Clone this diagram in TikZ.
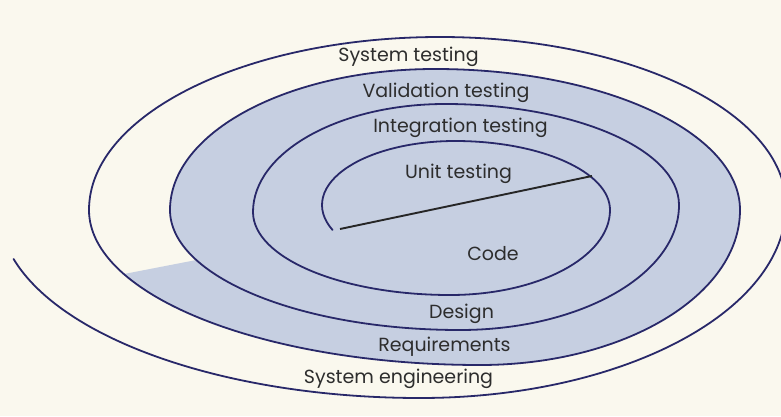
\documentclass[tikz,border=0pt]{standalone}
\usepackage{fontspec}
\setmainfont{Poppins}
\definecolor{paper}{RGB}{250,248,238}
\definecolor{band}{RGB}{198,207,225}
\definecolor{ink}{RGB}{40,40,105}
\definecolor{txt}{RGB}{45,45,45}
\begin{document}
\begin{tikzpicture}[x=1pt,y=1pt,
  spiral/.style={draw=ink, line width=1.8pt, line cap=round},
  lbl/.style={anchor=base, inner sep=0pt, text=txt, font=\fontsize{19}{22}\selectfont}]
\useasboundingbox (0,0) rectangle (781,416);
\fill[paper] (0,0) rectangle (781,416);

% shaded inner region: up to the validation ring, cut off at the lower left
\fill[band] (170,206)
  arc[start angle=180, end angle=90, x radius=265, y radius=141]
  arc[start angle=90, end angle=0, x radius=305, y radius=141]
  arc[start angle=0, end angle=-90, x radius=260, y radius=155]
  arc[start angle=-90, end angle=-155.6, x radius=391, y radius=155]
  -- (196.3,156.0)
  arc[start angle=204.6, end angle=180, x radius=290, y radius=120]
  -- cycle;

% the spiral, built from quarter ellipses, innermost end first
\draw[spiral] ([shift={(203:133 and 64)}]455,211)
  arc[start angle=203, end angle=90, x radius=133, y radius=64]
  arc[start angle=90, end angle=0, x radius=155, y radius=69]
  arc[start angle=0, end angle=-90, x radius=160, y radius=85]
  arc[start angle=-90, end angle=-180, x radius=197, y radius=83]
  arc[start angle=180, end angle=90, x radius=192, y radius=108]
  arc[start angle=90, end angle=0, x radius=234, y radius=101]
  arc[start angle=0, end angle=-90, x radius=219, y radius=125]
  arc[start angle=-90, end angle=-180, x radius=290, y radius=120]
  arc[start angle=180, end angle=90, x radius=265, y radius=141]
  arc[start angle=90, end angle=0, x radius=305, y radius=141]
  arc[start angle=0, end angle=-90, x radius=260, y radius=155]
  arc[start angle=-90, end angle=-180, x radius=391, y radius=155]
  arc[start angle=180, end angle=90, x radius=351, y radius=173]
  arc[start angle=90, end angle=0, x radius=346, y radius=168]
  arc[start angle=0, end angle=-90, x radius=366, y radius=193]
  arc[start angle=-90, end angle=-164.9, x radius=421, y radius=188];

% divider between unit testing and code
\coordinate (divL) at (340,187);
\coordinate (divR) at (592,240);
\draw[line width=1.9pt, draw=black!85] (divL) -- (divR);

% labels
\node[lbl] (systest) at (408.5,354) {System testing};
\node[lbl] (valtest) at (446,319) {Validation testing};
\node[lbl] (inttest) at (460.5,284) {Integration testing};
\node[lbl] (unittest) at (458.5,238) {Unit testing};
\node[lbl] (code) at (493,156) {Code};
\node[lbl] (design) at (461.5,98) {Design};
\node[lbl] (reqs) at (444.5,65) {Requirements};
\node[lbl] (syseng) at (398.5,33) {System engineering};
\end{tikzpicture}
\end{document}
